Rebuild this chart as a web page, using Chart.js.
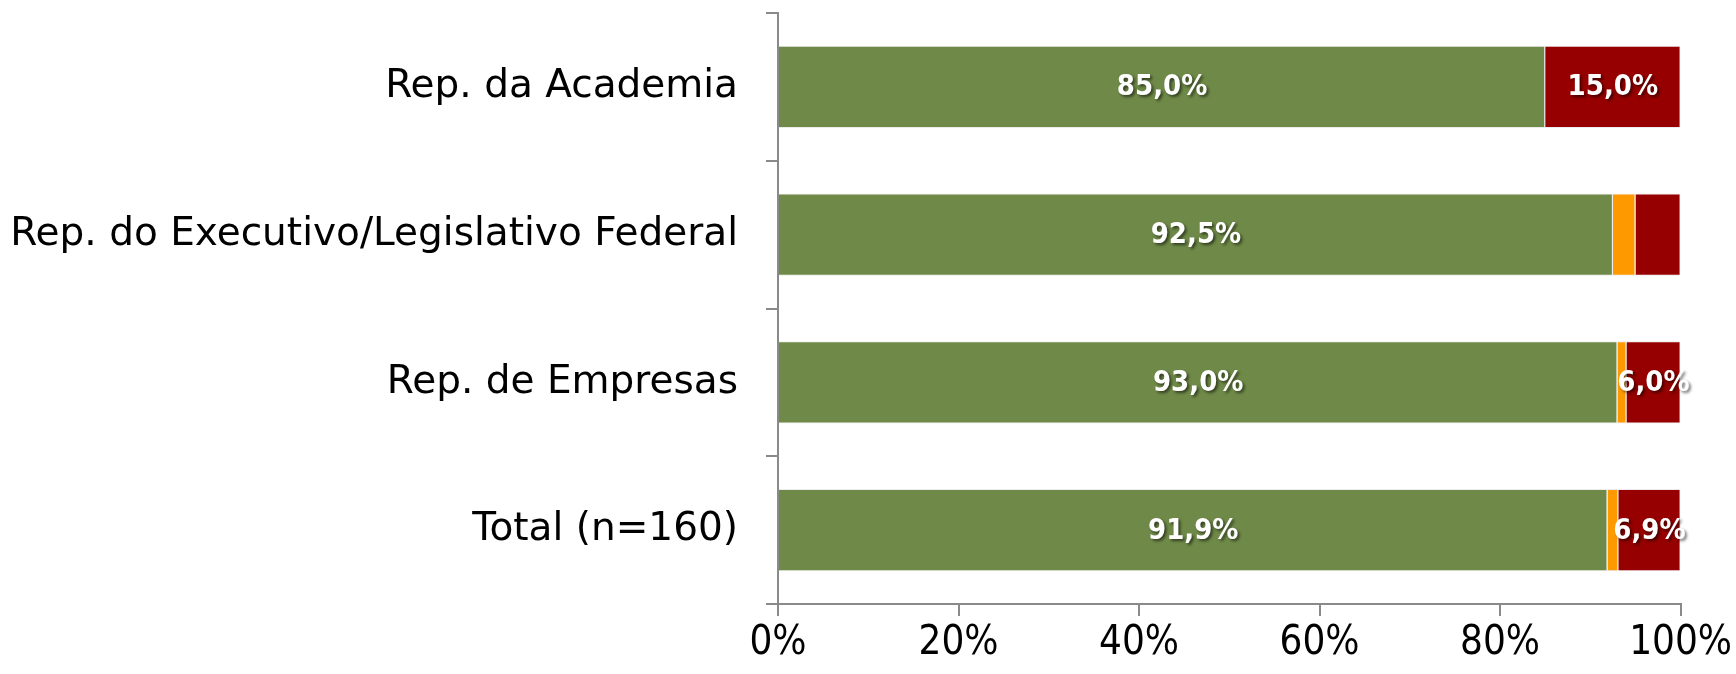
<!DOCTYPE html>
<html>
<head>
<meta charset="utf-8">
<script src="https://cdn.jsdelivr.net/npm/chart.js@4"></script>
<style>
    html, body { margin: 0; padding: 0; background: #fff; }
    #wrap { width: 1736px; height: 674px; }
</style>
</head>
<body>
<div id="wrap"><canvas id="chart" width="1736" height="674"></canvas></div>
<script>
const categories = ['Rep. da Academia', 'Rep. do Executivo/Legislativo Federal', 'Rep. de Empresas', 'Total (n=160)'];
const greenValues = [85.0, 92.5, 93.0, 91.9];
const orangeValues = [0.0, 2.5, 1.0, 1.2];
const redValues = [15.0, 5.0, 6.0, 6.9];
const xTicks = [0, 20, 40, 60, 80, 100];

const axisGray = '#8a8a8a';

// white labels with a soft dark shadow, centred on each segment
const barLabels = {
    id: 'barLabels',
    afterDatasetsDraw(chart) {
        const ctx = chart.ctx;
        chart.data.datasets.forEach((ds, i) => {
            if (!ds.showLabels) return;
            const meta = chart.getDatasetMeta(i);
            meta.data.forEach((bar, j) => {
                const v = ds.data[j];
                if (v < 6) return;
                const txt = v.toFixed(1).replace('.', ',') + '%';
                const cx = (bar.x + bar.base) / 2;
                ctx.save();
                ctx.font = 'bold 29px "DejaVu Sans Condensed", "DejaVu Sans", sans-serif';
                ctx.textAlign = 'center';
                ctx.textBaseline = 'middle';
                ctx.shadowColor = 'rgba(0,0,0,0.55)';
                ctx.shadowOffsetX = 2;
                ctx.shadowOffsetY = 2;
                ctx.shadowBlur = 3;
                ctx.fillStyle = '#ffffff';
                ctx.fillText(txt, cx, bar.y + 1);
                ctx.restore();
            });
        });
    }
};

new Chart(document.getElementById('chart'), {
    type: 'bar',
    data: {
        labels: categories,
        datasets: [
            { data: greenValues, backgroundColor: '#6f8a48', showLabels: true },
            { data: orangeValues, backgroundColor: '#ff9900', showLabels: false },
            { data: redValues, backgroundColor: '#960000', showLabels: true }
        ]
    },
    options: {
        indexAxis: 'y',
        responsive: false,
        animation: false,
        events: [],
        categoryPercentage: 0.555,
        barPercentage: 1.0,
        borderWidth: 1,
        borderColor: 'rgba(230,230,230,0.8)',
        layout: { padding: { top: 13, right: 51, left: 0, bottom: 0 } },
        plugins: {
            legend: { display: false },
            tooltip: { enabled: false }
        },
        scales: {
            x: {
                stacked: true,
                min: 0,
                max: 100,
                afterBuildTicks: scale => { scale.ticks = xTicks.map(v => ({ value: v })); },
                afterFit: scale => { scale.height = 70; },
                border: { color: axisGray, width: 2 },
                grid: { drawOnChartArea: false, drawTicks: true, tickLength: 12, color: axisGray, lineWidth: 2 },
                ticks: {
                    padding: 4,
                    color: '#000',
                    font: { family: '"Liberation Sans Narrow", "DejaVu Sans Condensed", sans-serif', size: 40 },
                    callback: v => v + '%'
                }
            },
            y: {
                stacked: true,
                afterFit: scale => {
                    scale.width = 778;
                    scale.paddingTop = 0;
                    scale.paddingBottom = 0;
                },
                border: { color: axisGray, width: 2 },
                grid: { drawOnChartArea: false, drawTicks: true, tickLength: 12, color: axisGray, lineWidth: 2, offset: true },
                ticks: {
                    padding: 28,
                    color: '#000',
                    font: { family: '"DejaVu Sans", sans-serif', size: 39 }
                }
            }
        }
    },
    plugins: [barLabels]
});
</script>
</body>
</html>
